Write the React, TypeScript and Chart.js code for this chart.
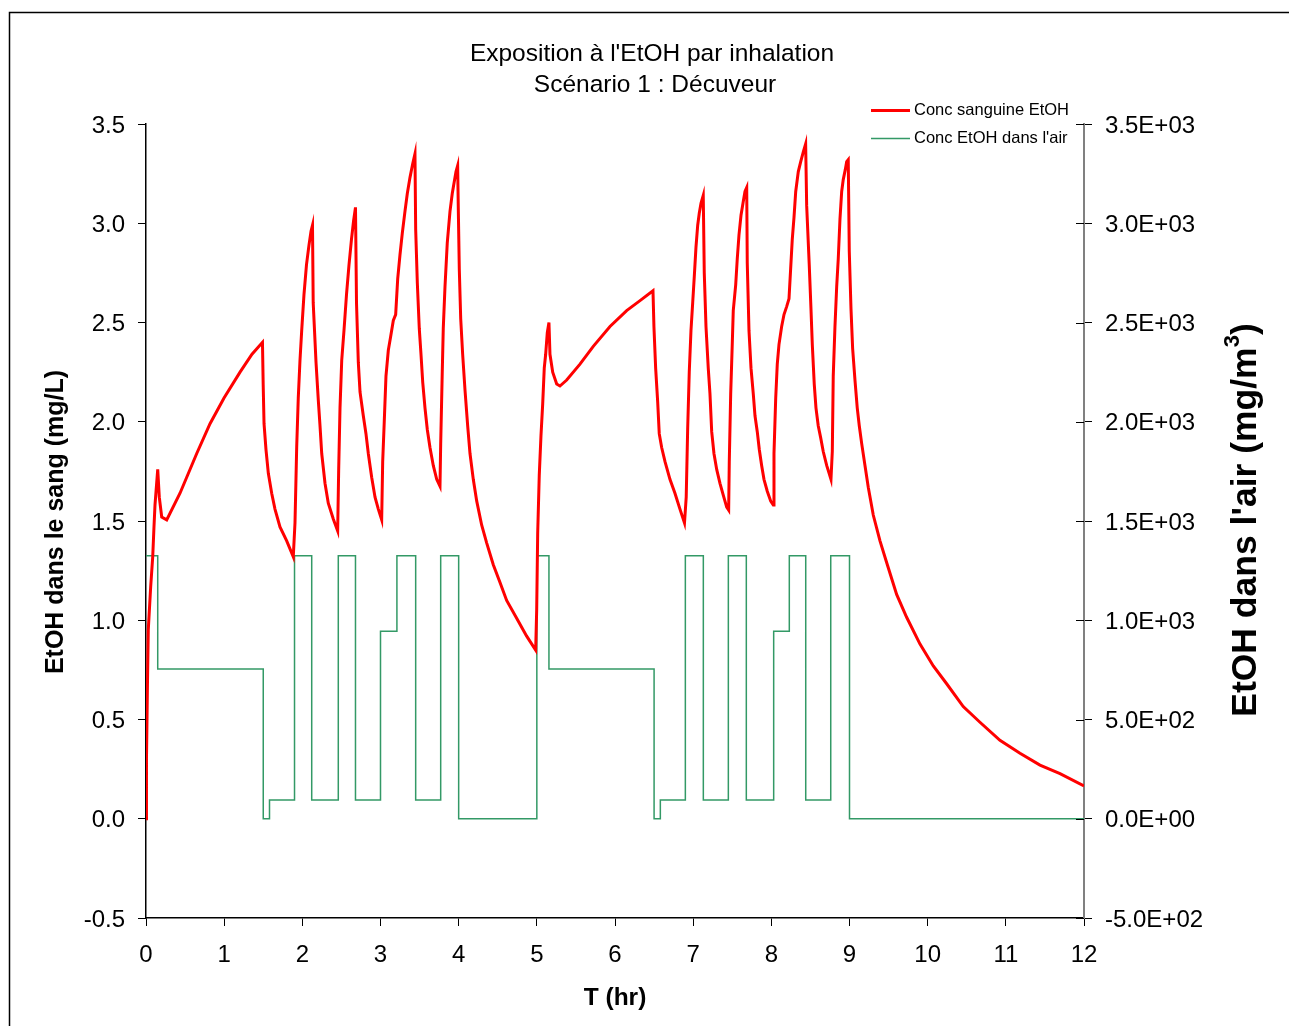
import React, { useEffect, useRef } from "react";
import { Chart, registerables } from "chart.js";

Chart.register(...registerables);

const FONT = "'Liberation Sans', Arial, Helvetica, sans-serif";

const titleLines = ["Exposition à l'EtOH par inhalation", "Scénario 1 : Décuveur"];
const xTitle = "T (hr)";
const yLeftTitle = "EtOH dans le sang (mg/L)";
const yRightTitleParts = ["EtOH dans l'air (mg/m", "3", ")"];
const seriesNames = ["Conc sanguine EtOH", "Conc EtOH dans l'air"];

// Blood ethanol concentration (mg/L) vs time (hr)
const bloodT = [
  0, 0.006, 0.019, 0.029, 0.06, 0.086, 0.102, 0.115, 0.15, 0.17, 0.201, 0.265, 0.435, 0.649, 0.819, 0.998, 1.203, 1.356, 1.49, 1.499, 1.51, 1.535, 1.565, 1.608, 1.65, 1.714, 1.8, 1.884,
  1.906, 1.928, 1.948, 1.97, 1.992, 2.021, 2.053, 2.085, 2.111, 2.13,
  2.139, 2.175, 2.204, 2.226, 2.248, 2.29, 2.332, 2.396, 2.452,
  2.465, 2.482, 2.504, 2.533, 2.565, 2.597, 2.629, 2.655, 2.68,
  2.693, 2.716, 2.738, 2.78, 2.814, 2.844, 2.887, 2.93, 2.972, 3.015,
  3.028, 3.048, 3.07, 3.1, 3.13, 3.164, 3.194, 3.22, 3.249, 3.279, 3.313, 3.343, 3.377, 3.412, 3.441,
  3.45, 3.471, 3.496, 3.518, 3.54, 3.569, 3.599, 3.633, 3.675, 3.719, 3.761,
  3.77, 3.79, 3.803, 3.825, 3.854, 3.889, 3.918, 3.944, 3.966, 3.987,
  3.995, 4.008, 4.026, 4.051, 4.081, 4.115, 4.145, 4.187, 4.231, 4.294, 4.358, 4.443, 4.529, 4.614, 4.742, 4.87, 4.985,
  4.998, 5.011, 5.031, 5.053, 5.075, 5.095, 5.113, 5.134, 5.155,
  5.168, 5.203, 5.254, 5.296, 5.382, 5.552, 5.722, 5.936, 6.149, 6.32, 6.486,
  6.498, 6.52, 6.546, 6.566, 6.597, 6.639, 6.703, 6.767, 6.831, 6.889,
  6.911, 6.93, 6.95, 6.972, 6.994, 7.014, 7.036, 7.058, 7.078, 7.1, 7.129,
  7.142, 7.164, 7.193, 7.215, 7.237, 7.266, 7.301, 7.343, 7.385, 7.429, 7.454,
  7.462, 7.48, 7.5, 7.513, 7.544, 7.564, 7.586, 7.612, 7.641, 7.663, 7.685,
  7.692, 7.714, 7.74, 7.769, 7.791, 7.82, 7.846, 7.876, 7.906, 7.948, 7.992, 8.025,
  8.034, 8.056, 8.076, 8.098, 8.132, 8.162, 8.196, 8.226, 8.247, 8.268, 8.29, 8.312, 8.345, 8.376, 8.409, 8.439,
  8.452, 8.485, 8.507, 8.524, 8.549, 8.571, 8.6, 8.631, 8.664, 8.708, 8.763,
  8.78, 8.792, 8.814, 8.836, 8.856, 8.878, 8.9, 8.92, 8.946, 8.964, 8.984,
  8.997, 9.019, 9.04, 9.07, 9.099, 9.125, 9.156, 9.198, 9.24, 9.304, 9.39, 9.476, 9.603, 9.731, 9.902, 10.072, 10.243, 10.455, 10.669, 10.925, 11.181, 11.437, 11.693, 12.0,
];
const bloodC = [
  0, 0.3, 0.69, 0.95, 1.17, 1.32, 1.47, 1.58, 1.76, 1.62, 1.52, 1.506, 1.64, 1.84, 1.99, 2.12, 2.25, 2.34, 2.4, 2.19, 1.99, 1.86, 1.74, 1.64, 1.56, 1.47, 1.4, 1.32,
  1.49, 1.875, 2.12, 2.31, 2.46, 2.64, 2.79, 2.89, 2.96, 2.99,
  2.6, 2.3, 2.11, 1.98, 1.84, 1.69, 1.59, 1.51, 1.45,
  1.76, 2.07, 2.31, 2.46, 2.64, 2.79, 2.92, 3.01, 3.08,
  2.6, 2.3, 2.15, 2.03, 1.94, 1.84, 1.72, 1.62, 1.56, 1.506,
  1.8, 2.0, 2.23, 2.36, 2.43, 2.51, 2.54, 2.72, 2.84, 2.95, 3.06, 3.15, 3.23, 3.3, 3.35,
  2.97, 2.7, 2.47, 2.34, 2.2, 2.07, 1.96, 1.87, 1.78, 1.71, 1.675,
  1.89, 2.25, 2.47, 2.68, 2.9, 3.06, 3.15, 3.21, 3.26, 3.29,
  3.08, 2.77, 2.52, 2.34, 2.16, 1.98, 1.84, 1.71, 1.6, 1.48, 1.39, 1.28, 1.19, 1.1, 1.01, 0.92, 0.85,
  1.05, 1.44, 1.73, 1.93, 2.09, 2.27, 2.34, 2.45, 2.5,
  2.34, 2.25, 2.19, 2.18, 2.21, 2.29, 2.38, 2.48, 2.56, 2.61, 2.66,
  2.48, 2.27, 2.1, 1.94, 1.87, 1.8, 1.71, 1.64, 1.56, 1.49,
  1.62, 1.97, 2.25, 2.46, 2.6, 2.73, 2.88, 2.99, 3.05, 3.1, 3.14,
  2.75, 2.48, 2.27, 2.14, 1.95, 1.84, 1.76, 1.69, 1.63, 1.57, 1.555,
  1.8, 2.14, 2.39, 2.56, 2.69, 2.82, 2.94, 3.04, 3.11, 3.16, 3.18,
  2.8, 2.46, 2.27, 2.14, 2.03, 1.95, 1.86, 1.78, 1.71, 1.65, 1.6, 1.58,
  1.84, 2.12, 2.29, 2.39, 2.48, 2.54, 2.58, 2.62, 2.77, 2.92, 3.03, 3.16, 3.26, 3.31, 3.36, 3.4,
  3.09, 2.79, 2.57, 2.39, 2.19, 2.07, 1.98, 1.92, 1.85, 1.78, 1.71,
  1.85, 2.23, 2.48, 2.68, 2.82, 3.02, 3.16, 3.22, 3.27, 3.31, 3.32,
  2.86, 2.57, 2.37, 2.21, 2.07, 1.98, 1.89, 1.78, 1.67, 1.53, 1.4, 1.29, 1.13, 1.015, 0.88, 0.77, 0.68, 0.565, 0.486, 0.395, 0.33, 0.27, 0.227, 0.165,
];

// Air ethanol concentration (mg/m3): each level starts at its time
const airT = [0, 0.15, 1.5, 1.58, 1.9, 2.12, 2.46, 2.68, 3.0, 3.21, 3.45, 3.77, 4.0, 5.0, 5.155, 6.5, 6.58, 6.9, 7.13, 7.45, 7.68, 8.03, 8.23, 8.44, 8.76, 9.0, 12];
const airC = [1325, 755, 0, 95, 1325, 95, 1325, 95, 945, 1325, 95, 1325, 0, 1325, 755, 0, 95, 1325, 95, 1325, 95, 945, 1325, 95, 1325, 0, 0];

const xMin = 0, xMax = 12, xStep = 1;
const yMin = -0.5, yMax = 3.5, yStep = 0.5;
const y2Min = -500, y2Max = 3500, y2Step = 500;

const RED = "#FF0000";
const GREEN = "#339966";

function expLabel(v: number): string {
  const s = Number(v).toExponential(1);
  const [m, e] = s.split("e");
  const sign = e[0] === "-" ? "-" : "+";
  const digits = e.replace(/[+-]/, "").padStart(2, "0");
  return `${m}E${sign}${digits}`;
}

const decorPlugin = {
  id: "decor",
  afterDraw(chart: any) {
    const ctx = chart.ctx as CanvasRenderingContext2D;
    const area = chart.chartArea;
    ctx.save();
    // outer frame (left + top)
    ctx.strokeStyle = "#000";
    ctx.lineWidth = 1.5;
    ctx.beginPath();
    ctx.moveTo(9.5, 1030);
    ctx.lineTo(9.5, 12.5);
    ctx.lineTo(1295, 12.5);
    ctx.stroke();

    // inner half of right-axis ticks
    const y2 = chart.scales.y2;
    ctx.strokeStyle = "#000";
    ctx.lineWidth = 1;
    y2.ticks.forEach((t: any) => {
      const py = Math.round(y2.getPixelForValue(t.value)) + 0.5;
      ctx.beginPath();
      ctx.moveTo(area.right - 8, py);
      ctx.lineTo(area.right, py);
      ctx.stroke();
    });

    ctx.fillStyle = "#000";
    // title
    ctx.font = `24.5px ${FONT}`;
    ctx.textAlign = "center";
    ctx.textBaseline = "middle";
    ctx.fillText(titleLines[0], 652, 54);
    ctx.fillText(titleLines[1], 655, 85);

    // x title
    ctx.font = `bold 24.5px ${FONT}`;
    ctx.fillText(xTitle, (area.left + area.right) / 2, 998);

    // left title
    ctx.save();
    ctx.translate(56, (area.top + area.bottom) / 2 + 1);
    ctx.rotate(-Math.PI / 2);
    ctx.font = `bold 25px ${FONT}`;
    ctx.fillText(yLeftTitle, 0, 0);
    ctx.restore();

    // right title with superscript
    ctx.save();
    ctx.translate(1246, (area.top + area.bottom) / 2 - 1);
    ctx.rotate(-Math.PI / 2);
    const bigFont = `bold 35.5px ${FONT}`;
    const supFont = `bold 22px ${FONT}`;
    ctx.font = bigFont;
    const w1 = ctx.measureText(yRightTitleParts[0]).width;
    const w3 = ctx.measureText(yRightTitleParts[2]).width;
    ctx.font = supFont;
    const w2 = ctx.measureText(yRightTitleParts[1]).width;
    const total = w1 + w2 + w3;
    let x0 = -total / 2;
    ctx.textAlign = "left";
    ctx.font = bigFont;
    ctx.fillText(yRightTitleParts[0], x0, 0);
    x0 += w1;
    ctx.font = supFont;
    ctx.fillText(yRightTitleParts[1], x0, -13);
    x0 += w2;
    ctx.font = bigFont;
    ctx.fillText(yRightTitleParts[2], x0, 0);
    ctx.restore();

    // legend
    ctx.lineWidth = 3;
    ctx.strokeStyle = RED;
    ctx.beginPath();
    ctx.moveTo(871, 110.5);
    ctx.lineTo(910, 110.5);
    ctx.stroke();
    ctx.lineWidth = 1.5;
    ctx.strokeStyle = GREEN;
    ctx.beginPath();
    ctx.moveTo(871, 138.5);
    ctx.lineTo(910, 138.5);
    ctx.stroke();
    ctx.font = `16.5px ${FONT}`;
    ctx.textAlign = "left";
    ctx.fillStyle = "#000";
    ctx.fillText(seriesNames[0], 914, 110);
    ctx.fillText(seriesNames[1], 914, 138);

    ctx.restore();
  },
};

export default function App() {
  const ref = useRef<HTMLCanvasElement | null>(null);

  useEffect(() => {
    if (!ref.current) return;
    const n1 = Math.min(bloodT.length, bloodC.length);
    const n2 = Math.min(airT.length, airC.length);
    const bloodData = Array.from({ length: n1 }, (_, i) => ({ x: bloodT[i], y: bloodC[i] }));
    const airData = Array.from({ length: n2 }, (_, i) => ({ x: airT[i], y: airC[i] }));

    const tickFont = { family: FONT, size: 24 };

    const chart = new Chart(ref.current, {
      type: "line",
      data: {
        datasets: [
          {
            label: seriesNames[0],
            data: bloodData,
            yAxisID: "y",
            borderColor: RED,
            backgroundColor: RED,
            borderWidth: 3,
            pointRadius: 0,
            tension: 0,
            fill: false,
          },
          {
            label: seriesNames[1],
            data: airData,
            yAxisID: "y2",
            borderColor: GREEN,
            backgroundColor: GREEN,
            borderWidth: 1.5,
            pointRadius: 0,
            stepped: "before",
            fill: false,
          },
        ],
      },
      options: {
        responsive: false,
        animation: false,
        devicePixelRatio: 1,
        layout: { padding: { top: 124, left: 0, right: 0, bottom: 0 } },
        plugins: {
          legend: { display: false },
          title: { display: false },
          tooltip: { enabled: false },
        },
        scales: {
          x: {
            type: "linear",
            min: xMin,
            max: xMax,
            afterFit: (s: any) => { s.height = 108; },
            ticks: { stepSize: xStep, color: "#000", font: tickFont, padding: 15, maxRotation: 0 },
            grid: { display: true, drawOnChartArea: false, drawTicks: true, tickLength: 8, color: "#000", lineWidth: 1 },
            border: { display: true, color: "#000", width: 1.5 },
          },
          y: {
            type: "linear",
            position: "left",
            min: yMin,
            max: yMax,
            afterFit: (s: any) => { s.width = 146; },
            ticks: { stepSize: yStep, color: "#000", font: tickFont, padding: 13, labelOffset: 2, callback: (v: any) => Number(v).toFixed(1) },
            grid: { display: true, drawOnChartArea: false, drawTicks: true, tickLength: 8, color: "#000", lineWidth: 1 },
            border: { display: true, color: "#000", width: 1.5 },
          },
          y2: {
            type: "linear",
            position: "right",
            min: y2Min,
            max: y2Max,
            afterFit: (s: any) => { s.width = 205; },
            ticks: { stepSize: y2Step, color: "#000", font: tickFont, padding: 13, labelOffset: 2, callback: (v: any) => expLabel(Number(v)) },
            grid: { display: true, drawOnChartArea: false, drawTicks: true, tickLength: 8, color: "#000", lineWidth: 1 },
            border: { display: true, color: "#808080", width: 2 },
          },
        },
      },
      plugins: [decorPlugin],
    } as any);

    return () => chart.destroy();
  }, []);

  return (
    <div style={{ position: "absolute", left: 0, top: 0, width: 1289, height: 1026, background: "#fff", overflow: "hidden" }}>
      <canvas ref={ref} width={1289} height={1026} style={{ display: "block", width: 1289, height: 1026 }} />
    </div>
  );
}
